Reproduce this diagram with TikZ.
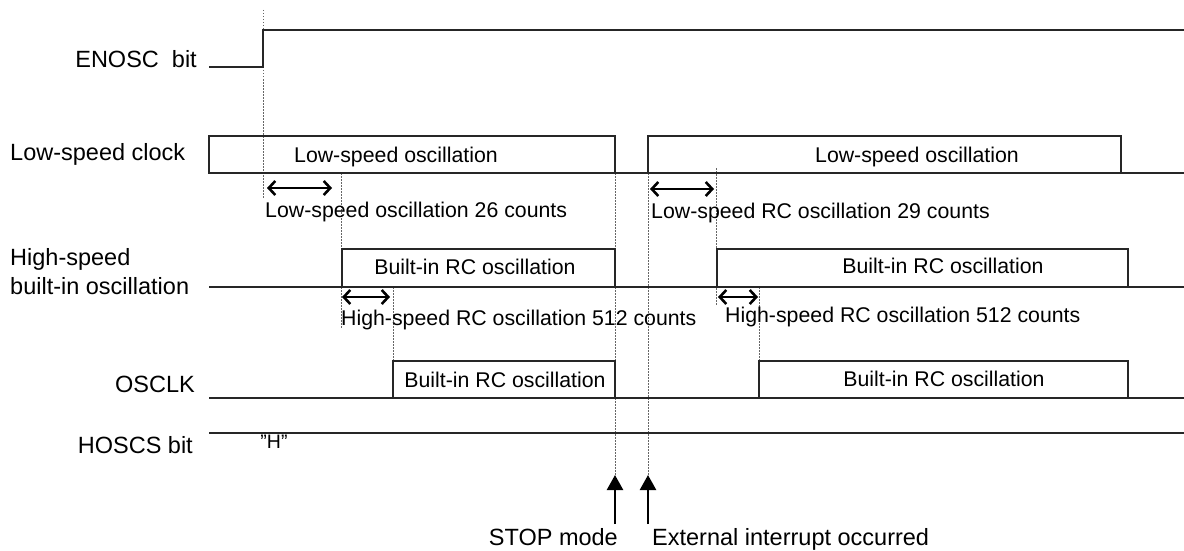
\documentclass[tikz,border=0pt]{standalone}
\usepackage{fontspec}
\setmainfont{Liberation Sans}
\usetikzlibrary{arrows.meta}
\begin{document}
\begin{tikzpicture}[x=1pt,y=-1pt,
  wave/.style={draw=black!85,line width=1.2pt},
  guide/.style={draw=black!60,line width=0.8pt,dash pattern=on 1.5pt off 1.5pt},
  span/.style={line width=2.6pt,{Straight Barb[length=6.5pt,width=14pt]}-{Straight Barb[length=6.5pt,width=14pt]}},
  event/.style={line width=2.4pt,-{Triangle[length=15pt,width=16pt]}},
  lbl/.style={inner sep=0pt,font=\fontsize{23.5}{28}\selectfont},
  txt/.style={inner sep=0pt,font=\fontsize{21.3}{25}\selectfont}]
\useasboundingbox (0,0) rectangle (1184,551);
\fill[white] (0,0) rectangle (1184,551);

% labels
\node[lbl,anchor=base east] (lenosc) at (197,67) {ENOSC\ \ bit};
\node[lbl,anchor=base west] (llow) at (10,160) {Low-speed clock};
\node[lbl,anchor=base west] (lhigh1) at (10,265) {High-speed};
\node[lbl,anchor=base west] (lhigh2) at (10,294) {built-in oscillation};
\node[lbl,anchor=base east] (losc) at (195,392) {OSCLK};
\node[lbl,anchor=base east] (lhoscs) at (193,453) {HOSCS bit};

% guides
\draw[guide] (263,10) -- (263,198);
\draw[guide] (341,173) -- (341,328);
\draw[guide] (393,287) -- (393,361);
\draw[guide] (615,173) -- (615,475);
\draw[guide] (648,173) -- (648,475);
\draw[guide] (716,168) -- (716,305);
\draw[guide] (759,287) -- (759,361);

% ENOSC
\draw[wave] (209,67) -- (263,67) -- (263,30) -- (1184,30);

% Low-speed clock
\draw[wave] (209,136) rectangle (615,173);
\draw[wave] (648,136) rectangle (1121,173);
\draw[wave] (615,173) -- (1184,173);
\node[txt,anchor=base] (ls1) at (396,162) {Low-speed oscillation};
\node[txt,anchor=base] (ls2) at (917,162) {Low-speed oscillation};

% High-speed built-in oscillation
\draw[wave] (209,287) -- (1184,287);
\draw[wave] (342,249) rectangle (615,287);
\draw[wave] (717,249) rectangle (1128,287);
\node[txt,anchor=base] (hs1) at (475,274) {Built-in RC oscillation};
\node[txt,anchor=base] (hs2) at (943,273) {Built-in RC oscillation};

% OSCLK
\draw[wave] (209,398) -- (1184,398);
\draw[wave] (393,361) rectangle (615,398);
\draw[wave] (759,361) rectangle (1128,398);
\node[txt,anchor=base] (os1) at (505,387) {Built-in RC oscillation};
\node[txt,anchor=base] (os2) at (944,386) {Built-in RC oscillation};

% HOSCS
\draw[wave] (209,433) -- (1184,433);
\node[txt,anchor=base,font=\fontsize{19.5}{22}\selectfont] (hh) at (274,448) {”H”};

% spans
\coordinate (a1) at (267,188); \coordinate (b1) at (332,188);
\coordinate (a2) at (650,189); \coordinate (b2) at (714,189);
\coordinate (a3) at (342,297); \coordinate (b3) at (390,297);
\coordinate (a4) at (718,297); \coordinate (b4) at (758,297);
\draw[span] (a1) -- (b1);
\draw[span] (a2) -- (b2);
\draw[span] (a3) -- (b3);
\draw[span] (a4) -- (b4);
\node[txt,anchor=base west] (t1) at (265,217) {Low-speed oscillation 26 counts};
\node[txt,anchor=base west] (t2) at (651,218) {Low-speed RC oscillation 29 counts};
\node[txt,anchor=base west] (t3) at (341,325) {High-speed RC oscillation 512 counts};
\node[txt,anchor=base west] (t4) at (725,322) {High-speed RC oscillation 512 counts};

% events
\coordinate (s0) at (615,524); \coordinate (s1) at (615,475);
\coordinate (e0) at (648,524); \coordinate (e1) at (648,475);
\draw[event] (s0) -- (s1);
\draw[event] (e0) -- (e1);
\node[lbl,anchor=base east] (stop) at (618,545) {STOP mode};
\node[lbl,anchor=base west] (ext) at (652,545) {External interrupt occurred};
\end{tikzpicture}
\end{document}
